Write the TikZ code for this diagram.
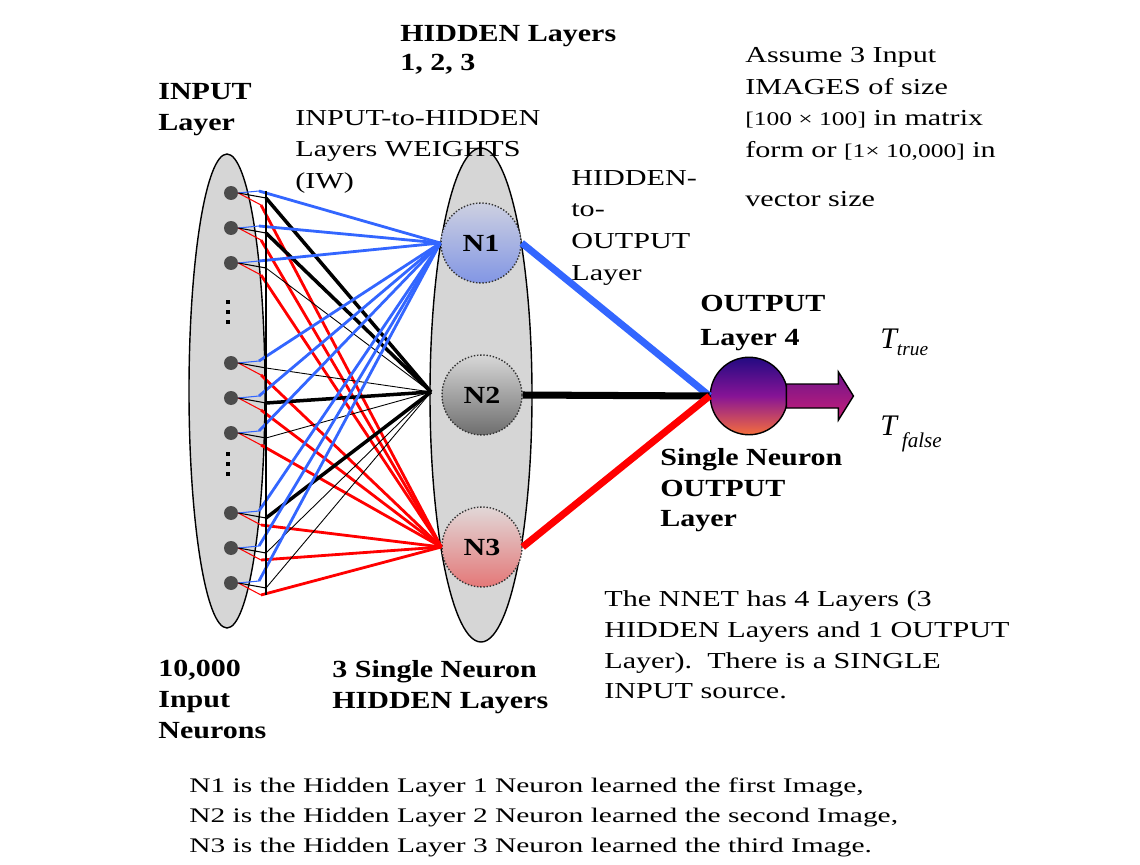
\documentclass[tikz,border=0pt]{standalone}
\usepackage{fontspec}
\setmainfont{Liberation Serif}
\newfontfamily\wideserif{Liberation Serif}[FakeStretch=1.32]
\newfontfamily\widerserif{Liberation Serif}[FakeStretch=1.42]
\newfontfamily\wideserifb{Liberation Serif}[FakeStretch=1.22]
\usetikzlibrary{calc,positioning,arrows.meta}
\definecolor{wblue}{RGB}{51,102,255}
\definecolor{wred}{RGB}{255,0,0}
\definecolor{layergray}{RGB}{214,214,214}
\definecolor{nonetop}{RGB}{205,208,225}
\definecolor{nonebot}{RGB}{130,150,228}
\definecolor{ntwotop}{RGB}{215,215,215}
\definecolor{ntwobot}{RGB}{110,110,110}
\definecolor{nthreetop}{RGB}{225,215,215}
\definecolor{nthreebot}{RGB}{228,120,120}
\definecolor{outtop}{RGB}{35,10,130}
\definecolor{outmid}{RGB}{135,20,150}
\definecolor{outbot}{RGB}{245,110,60}
\definecolor{arrtop}{RGB}{110,20,140}
\definecolor{arrbot}{RGB}{200,30,120}

\begin{document}
\begin{tikzpicture}[x=0.02cm, y=-0.02cm,
    txt/.style={anchor=north west, inner sep=0pt, align=left,
      font=\wideserif\fontsize{13}{18}\selectfont},
    btxt/.style={anchor=north west, inner sep=0pt, align=left,
      font=\wideserifb\bfseries\fontsize{14}{17.5}\selectfont},
    layer/.style={draw=black, line width=0.8pt, fill=layergray},
    innode/.style={circle, fill=black!70, inner sep=0pt, minimum size=0.28cm},
    hnode/.style={circle, draw=black!80, densely dotted, line width=0.8pt,
      inner sep=0pt, minimum size=1.6cm,
      font=\wideserifb\bfseries\fontsize{14}{14}\selectfont},
    bw/.style={wblue, line width=1.6pt},
    rw/.style={wred, line width=1.6pt},
  ]
  \fill[white] (0,0) rectangle (1140,865);
  \useasboundingbox (0,0) rectangle (1140,865);

  \draw[layer] (227,391) ellipse (38 and 237);
  \draw[layer] (481,395) ellipse (51 and 247);

  \node[hnode, top color=nonetop, bottom color=nonebot] (N1) at (481,243) {N1};
  \node[hnode, top color=ntwotop, bottom color=ntwobot] (N2) at (482,395) {N2};
  \node[hnode, top color=nthreetop, bottom color=nthreebot] (N3) at (482,547) {N3};
  \coordinate (h2in) at (431,392);

  \foreach \i/\y/\kw in {1/193/2pt,2/228/2pt,3/263/0.5pt,4/363/0.5pt,5/398/2pt,
                         6/433/0.5pt,7/513/2pt,8/548/0.5pt,9/583/0.5pt}
  {
    \node[innode] (in\i) at (231,\y) {};
    \coordinate (b\i) at (259,\y-2);
    \coordinate (k\i) at (266,\y+5);
    \coordinate (r\i) at (261,\y+12);
    \draw[wblue, line width=0.6pt] (in\i.east) -- (b\i);
    \draw[wred, line width=0.6pt] (in\i.east) -- (r\i);
    \draw[black, line width=0.6pt] (in\i.east) -- (k\i);
    \draw[bw] (b\i) -- (N1.west);
    \draw[rw] (r\i) -- (N3.west);
    \draw[black, line width=\kw] (k\i) -- (h2in);
  }
  \draw[line width=0.8pt] (b1 -| k1) -- (r9 -| k1);
  \foreach \y in {300,310,320,452,462,472}
    \fill (226,\y) rectangle (230,\y+4);

  \node[circle, draw, line width=0.8pt, minimum size=1.55cm,
        top color=outtop, bottom color=outbot, middle color=outmid] (out) at (749,396) {};
  \draw[line width=4pt, wblue] (N1.east) -- (out.west);
  \draw[line width=4pt, black] (N2.east) -- (out.west);
  \draw[line width=4pt, wred] (N3.east) -- (out.west);
  \draw[line width=0.8pt, top color=arrtop, bottom color=arrbot]
    ($(out.east)+(-2,-12)$) -- ++(52,0) -- ++(0,-12) -- ++(15,24)
    -- ++(-15,24) -- ++(0,-12) -- ++(-52,0) -- cycle;

  \node[btxt, font=\wideserifb\bfseries\fontsize{14}{16.5}\selectfont] (hidtitle) at (400,25) {HIDDEN Layers\\1, 2, 3};
  \node[btxt] (intitle) at (158,83) {INPUT\\Layer};
  \node[txt] (iwlabel) at (295,110) {INPUT-to-HIDDEN\\Layers WEIGHTS\\(IW)};
  \node[txt] (holabel) at (571,170) {HIDDEN-\\to-\\OUTPUT\\Layer};
  \node[txt] (assume) at (745,47) {Assume 3 Input\\IMAGES of size\\
    {\fontsize{11}{18}\selectfont[100 × 100]} in matrix\\
    form or {\fontsize{11}{18}\selectfont[1× 10,000]} in\\[10pt]vector size};
  \node[btxt, font=\wideserifb\bfseries\fontsize{14}{19}\selectfont] (outtitle) at (700,295) {OUTPUT\\Layer 4};
  \node[anchor=base west, inner sep=0pt, font=\itshape\fontsize{17}{17}\selectfont] (ttrue) at (880,348)
    {T\raisebox{-4pt}{\fontsize{11}{11}\selectfont true}};
  \node[anchor=base west, inner sep=0pt, font=\itshape\fontsize{17}{17}\selectfont] (tfalse) at (880,435)
    {T\,\raisebox{-7pt}{\fontsize{12}{12}\selectfont false}};
  \node[btxt] (outnote) at (660,448) {Single Neuron\\OUTPUT\\Layer};
  \node[btxt] (incount) at (158,660) {10,000\\Input\\Neurons};
  \node[btxt] (hidcount) at (332,660) {3 Single Neuron\\HIDDEN Layers};
  \node[txt, font=\wideserif\fontsize{13}{17.6}\selectfont] (summary) at (604,590)
    {The NNET has 4 Layers (3\\HIDDEN Layers and 1 OUTPUT\\Layer).\ \ There is a SINGLE\\INPUT source.};
  \node[txt, font=\widerserif\fontsize{11.8}{17}\selectfont] (notes) at (189,778)
    {N1 is the Hidden Layer 1 Neuron learned the first Image,\\
     N2 is the Hidden Layer 2 Neuron learned the second Image,\\
     N3 is the Hidden Layer 3 Neuron learned the third Image.};
\end{tikzpicture}
\end{document}
